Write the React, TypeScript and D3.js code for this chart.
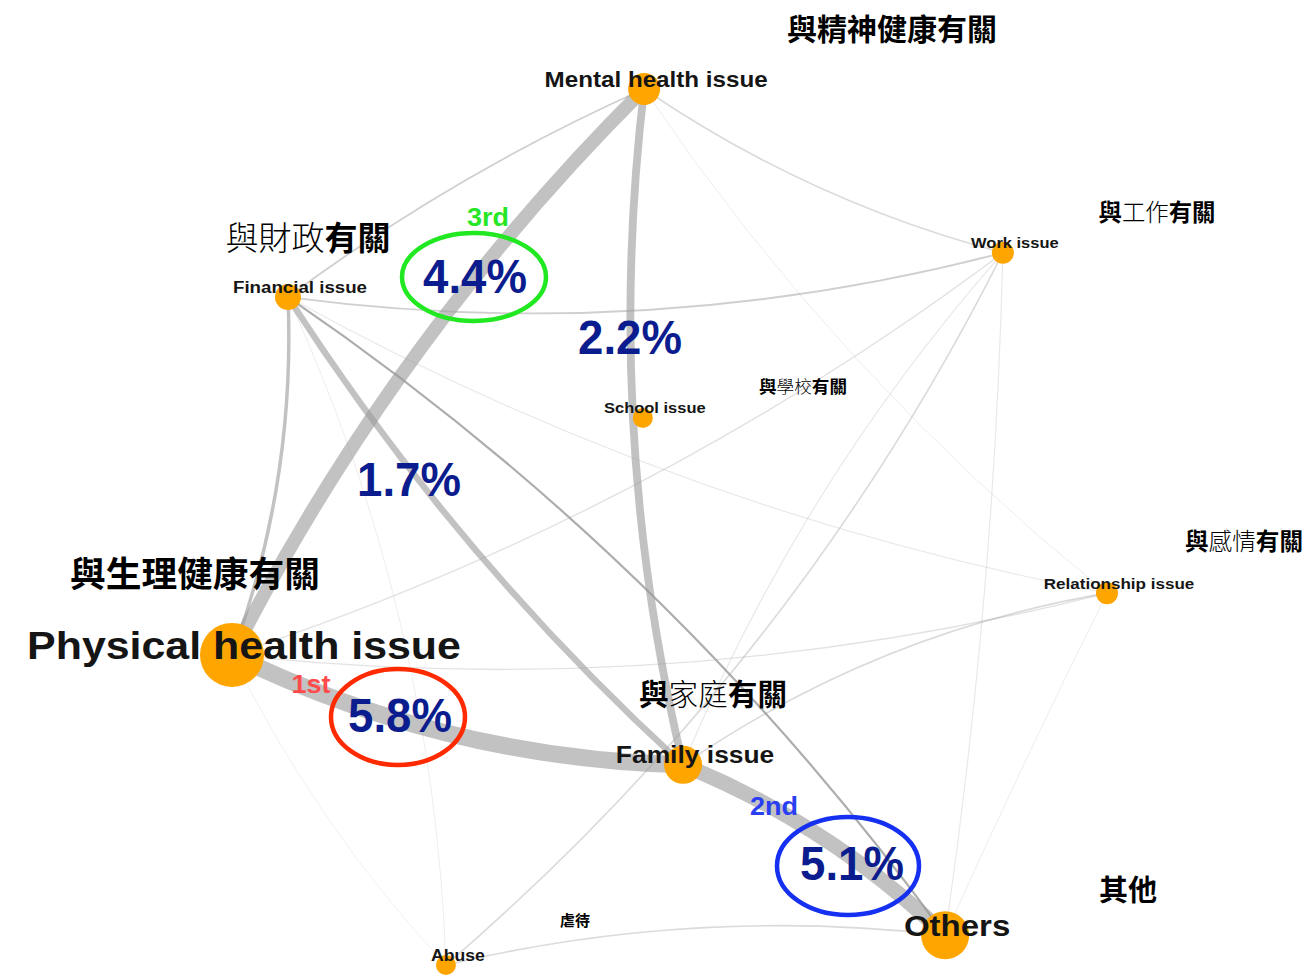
import React from 'react';
import * as d3 from 'd3';

// ---------- data ----------
const nodeIds = ['Mental', 'Financial', 'School', 'Work', 'Relationship', 'Physical', 'Family', 'Others', 'Abuse'];
const nodeLabels = ['Mental health issue', 'Financial issue', 'School issue', 'Work issue', 'Relationship issue', 'Physical health issue', 'Family issue', 'Others', 'Abuse'];
// layout coordinates (normalised, like an igraph layout)
const layoutX = [-0.058, -0.872, -0.061, 0.762, 1.0, -1.0, 0.031, 0.63, -0.511];
const layoutY = [1.0, 0.525, 0.249, 0.626, -0.151, -0.292, -0.543, -0.932, -1.0];
const nodeValue = [16, 13, 10, 11, 11, 32, 19, 24, 10];
const labelCex = [22, 17, 15, 15, 15.5, 39, 24, 30, 16];

const edgeFrom = ['Physical', 'Physical', 'Family', 'Mental', 'Financial', 'Financial', 'Financial', 'Financial', 'Financial', 'Financial', 'Financial', 'Mental', 'Mental', 'Physical', 'Physical', 'Physical', 'Abuse', 'Abuse', 'Work', 'Work', 'Relationship', 'Family'];
const edgeTo = ['Mental', 'Family', 'Others', 'Family', 'Family', 'Physical', 'Mental', 'Work', 'Others', 'Relationship', 'Abuse', 'Work', 'Relationship', 'Work', 'Relationship', 'Abuse', 'Others', 'Work', 'Family', 'Others', 'Others', 'Relationship'];
const edgeWeight = [4.4, 5.8, 5.1, 2.2, 1.7, 0.8, 0.35, 0.35, 0.45, 0.2, 0.15, 0.3, 0.15, 0.25, 0.25, 0.12, 0.3, 0.3, 0.2, 0.2, 0.15, 0.3];
const edgeCurve = [-0.08, 0.108, -0.096, 0.089, 0.065, -0.1, -0.055, 0.098, -0.087, 0.08, -0.1, 0.086, 0.076, 0.082, 0.09, 0.074, -0.088, 0.1, 0.083, -0.03, 0.01, -0.11];

const pctLabels = ['4.4%', '2.2%', '1.7%', '5.8%', '5.1%'];
const rankLabels = ['3rd', '1st', '2nd'];
const categoryLabels = ['與精神健康有關', '與財政有關', '與工作有關', '與學校有關', '與感情有關', '與生理健康有關', '與家庭有關', '其他', '虐待'];

// ---------- rendering ----------
const W = 1303;
const H = 977;
const LATIN = '"Liberation Sans", Arial, Helvetica, sans-serif';
const CJK = '"Noto Sans CJK TC", "Noto Sans CJK SC", sans-serif';

function Stretched({ x, y, sx, fs, fill, children, weight = 'bold' }: any) {
  return (
    <text
      transform={`translate(${x},${y}) scale(${sx},1)`}
      textAnchor="middle"
      fontFamily={LATIN}
      fontWeight={weight}
      fontSize={fs}
      fill={fill}
    >
      {children}
    </text>
  );
}

function CjkLabel({ text, cx, cy, fs, light }: any) {
  const chars = Array.from(text as string);
  return (
    <text x={cx} y={cy + fs * 0.37} textAnchor="middle" fontFamily={CJK} fontSize={fs} fill="#000">
      {chars.map((c, i) => (
        <tspan key={i} fontWeight={light.includes(i) ? 300 : 700}>{c}</tspan>
      ))}
    </text>
  );
}

export default function App() {
  const xScale = d3.scaleLinear().domain([-1, 1]).range([232, 1107]);
  const yScale = d3.scaleLinear().domain([-1, 1]).range([965, 89]);
  const rScale = d3.scaleLinear().domain([0, 32]).range([0, 32]);
  const wScale = d3.scalePow().exponent(0.8).domain([0, 5.8]).range([0, 17]);
  const opScale = d3.scalePow().exponent(3).domain([0.1, 0.45]).range([0.18, 0.8]).clamp(true);

  const nodes = nodeIds.map((id, i) => ({
    id,
    label: nodeLabels[i],
    x: xScale(layoutX[i]),
    y: yScale(layoutY[i]),
    r: rScale(nodeValue[i]),
    fs: labelCex[i],
  }));
  const byId = new Map(nodes.map((n) => [n.id, n]));

  const edges = edgeFrom.map((f, i) => {
    const s = byId.get(f)!;
    const t = byId.get(edgeTo[i])!;
    const dx = t.x - s.x;
    const dy = t.y - s.y;
    const L = Math.hypot(dx, dy);
    const nx = -dy / L;
    const ny = dx / L;
    const c = edgeCurve[i];
    const cx = (s.x + t.x) / 2 + nx * c * L;
    const cy = (s.y + t.y) / 2 + ny * c * L;
    const p = d3.path();
    p.moveTo(s.x, s.y);
    p.quadraticCurveTo(cx, cy, t.x, t.y);
    const w = edgeWeight[i];
    return {
      d: p.toString(),
      w,
      width: wScale(w),
      opacity: w >= 0.8 ? 0.6 : opScale(w),
    };
  }).sort((a, b) => a.w - b.w);

  const pctPos = [
    [475, 293],
    [630, 354],
    [409, 496],
    [400, 732],
    [852, 880],
  ];
  const rankPos = [
    [488, 226, '#27e627'],
    [311, 693, '#ff4b4b'],
    [774, 815, '#2a3ef2'],
  ];
  const ellipses = [
    [474, 277, 72, 44, '#22e822'],
    [398, 717, 67, 48, '#ff2a00'],
    [848, 866, 71, 49, '#1530f0'],
  ];
  const catPos: any[] = [
    [892, 29, 30, []],
    [308, 238, 33, [0, 1, 2]],
    [1157, 212, 23.4, [1, 2]],
    [803, 386, 17.6, [1, 2]],
    [1244, 541, 23.6, [1, 2]],
    [195, 574, 35.7, []],
    [713, 694, 29.6, [1, 2]],
    [1128, 890, 29, []],
    [575, 920, 15, []],
  ];

  return (
    <svg
      width={W}
      height={H}
      viewBox={`0 0 ${W} ${H}`}
      style={{ position: 'absolute', left: 0, top: 0, background: '#fff' }}
    >
      <rect x={0} y={0} width={W} height={H} fill="#fff" />
      <g fill="none">
        {edges.map((e, i) => (
          <path key={i} d={e.d} stroke="#999" strokeWidth={e.width} strokeOpacity={e.opacity} />
        ))}
      </g>
      <g>
        {nodes.map((n) => (
          <circle key={n.id} cx={n.x} cy={n.y} r={n.r} fill="#ffa500" />
        ))}
      </g>
      <g>
        {nodes.map((n) => (
          <Stretched key={n.id} x={n.x + 12} y={n.y - 10 + n.fs * 0.358} sx={1.1} fs={n.fs} fill="#151515">
            {n.label}
          </Stretched>
        ))}
      </g>
      <g fill="none" strokeWidth={4.5}>
        {ellipses.map((e, i) => (
          <ellipse key={i} cx={e[0] as number} cy={e[1] as number} rx={e[2] as number} ry={e[3] as number} stroke={e[4] as string} />
        ))}
      </g>
      <g>
        {pctLabels.map((t, i) => (
          <Stretched key={t} x={pctPos[i][0]} y={pctPos[i][1]} sx={0.93} fs={49} fill="#0b1d8e">
            {t}
          </Stretched>
        ))}
      </g>
      <g>
        {rankLabels.map((t, i) => (
          <Stretched key={t} x={rankPos[i][0]} y={rankPos[i][1]} sx={1.08} fs={25} fill={rankPos[i][2]}>
            {t}
          </Stretched>
        ))}
      </g>
      <g>
        {categoryLabels.map((t, i) => (
          <CjkLabel key={t} text={t} cx={catPos[i][0]} cy={catPos[i][1]} fs={catPos[i][2]} light={catPos[i][3]} />
        ))}
      </g>
    </svg>
  );
}
